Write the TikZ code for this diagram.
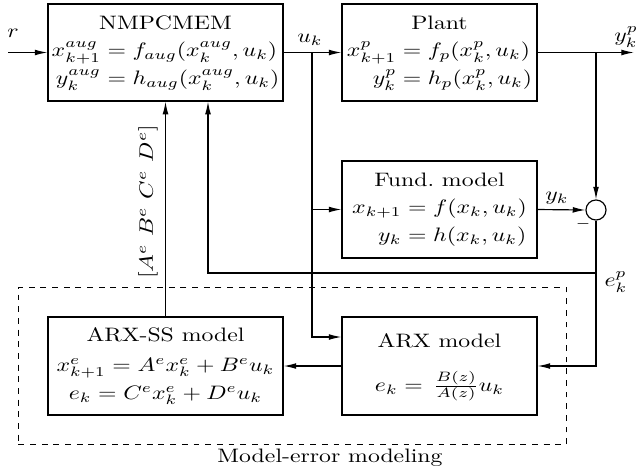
\documentclass[tikz,border=0pt]{standalone}
\usepackage{graphicx}
\usepackage{tikz}
\usetikzlibrary{positioning, arrows.meta, fit}
\newcommand{\wtext}[1]{\scalebox{1.22}[1]{#1}}
\tikzset{
  blk/.style={draw, line width=0.6pt, inner sep=0pt, align=center},
  sumnode/.style={draw, circle, line width=0.6pt, inner sep=0pt, minimum size=10.3pt},
  grp/.style={draw, dashed, line width=0.5pt, inner sep=14.9pt},
  lbl/.style={inner sep=0pt},
  ar/.style={line width=0.6pt, -{Latex[length=6.5pt, width=3pt]}},
}

\begin{document}
\begin{tikzpicture}[x=0.514pt, y=-0.514pt]
  \useasboundingbox (0,0) rectangle (638,473);

  % --- blocks ---
  \node[blk, minimum width=120.8pt, minimum height=49.9pt] (nmpc) at (165.5,52.5)
    {\wtext{$\begin{array}{@{}r@{}l@{}}
      \multicolumn{2}{c}{\mbox{NMPCMEM}}\\[2pt]
      x^{aug}_{k+1} & {}= f_{aug}(x^{aug}_k,u_k)\\[2.5pt]
      y^{aug}_k & {}= h_{aug}(x^{aug}_k,u_k)
    \end{array}$}};
  \node[blk, minimum width=100.2pt, minimum height=49.9pt] (plant) at (439.5,52.5)
    {\wtext{$\begin{array}{@{}r@{}l@{}}
      \multicolumn{2}{c}{\mbox{Plant}}\\[2pt]
      x^p_{k+1} & {}= f_p(x^p_k,u_k)\\[2.5pt]
      y^p_k & {}= h_p(x^p_k,u_k)
    \end{array}$}};
  \node[blk, minimum width=100.2pt, minimum height=49.9pt] (fund) at (439.5,209.5)
    {\wtext{$\begin{array}{@{}r@{}l@{}}
      \multicolumn{2}{c}{\mbox{Fund.\ model}}\\[2pt]
      x_{k+1} & {}= f(x_k,u_k)\\[2.5pt]
      y_k & {}= h(x_k,u_k)
    \end{array}$}};
  \node[blk, minimum width=120.8pt, minimum height=50.4pt] (arxss) at (165.5,366)
    {\wtext{$\begin{array}{@{}c@{}}
      \mbox{ARX-SS model}\\[3pt]
      x^e_{k+1} = A^e x^e_k + B^e u_k\\[2.5pt]
      e_k = C^e x^e_k + D^e u_k
    \end{array}$}};
  \node[blk, minimum width=100.2pt, minimum height=50.4pt] (arx) at (439.5,366)
    {\wtext{$\begin{array}{@{}c@{}}
      \mbox{ARX model}\\[9pt]
      e_k = \,\frac{B(z)}{A(z)}u_k
    \end{array}$}};
  \node[sumnode] (sum) at (596,210) {};

  % --- branch points ---
  \coordinate (rin) at (8,52.5);
  \coordinate (yout) at (634,52.5);
  \coordinate (ub) at (312,52.5);
  \coordinate (yb) at (596,52.5);
  \coordinate (ua) at (312,337);
  \coordinate (eb) at (596,273);
  \coordinate (fbx) at (208,0);

  % --- arrows ---
  \draw[ar] (rin) -- (nmpc.west);
  \draw[ar] (nmpc.east) -- (plant.west);
  \draw[ar] (plant.east) -- (yout);
  \draw[ar] (ub) |- (fund.west);
  \draw[ar] (ub) -- (ua) -- (ua -| arx.west);
  \draw[ar] (yb) -- (sum.north);
  \draw[ar] (fund.east) -- (sum.west);
  \draw[ar] (sum.south) |- (arx.east);
  \draw[ar] (eb) -| (fbx |- nmpc.south);
  \draw[ar] (arx.west) -- (arxss.east);
  \draw[ar] (arxss.north) -- (nmpc.south);

  % --- labels ---
  \node[lbl] (rlab) at (13,33) {\wtext{$r$}};
  \node[lbl] (ulab) at (310,40) {\wtext{$u_k$}};
  \node[lbl] (yplab) at (626,37) {\wtext{$y^p_k$}};
  \node[lbl] (ylab) at (557,198) {\wtext{$y_k$}};
  \node[lbl, font=\small] (minus) at (583,224) {$-$};
  \node[lbl] (eplab) at (616,282) {\wtext{$e^p_k$}};
  \node[lbl, rotate=90] (parlab) at (148,202) {\wtext{$[A^e\ B^e\ C^e\ D^e]$}};

  % --- model-error group ---
  \node[grp, fit=(arxss)(arx)] (meme) {};
  \node[lbl] (memelab) at (330,458) {\wtext{Model-error modeling}};
\end{tikzpicture}
\end{document}
